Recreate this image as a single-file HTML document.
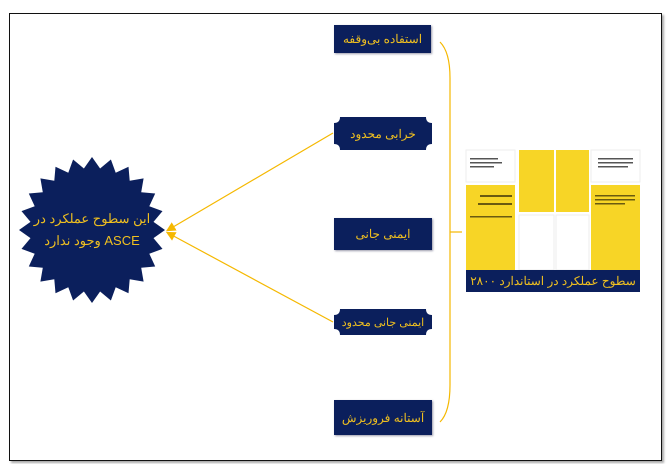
<!DOCTYPE html>
<html><head><meta charset="utf-8"><style>
body{margin:0;width:667px;height:464px;background:#fff;position:relative;overflow:hidden;font-family:"Liberation Sans","Noto Sans CJK SC",sans-serif}
.frame{position:absolute;left:9px;top:13px;width:651px;height:446px;border:1.5px solid #111;box-shadow:2px 2px 2px #aaa}
.b{position:absolute;background:#0b1f5c;color:#f0c020;font-size:12px;display:flex;align-items:center;justify-content:center;direction:rtl;box-shadow:1px 1px 2px #99a}
.t{position:absolute;color:#f0c020;display:flex;align-items:center;justify-content:center;direction:rtl;text-align:center;white-space:nowrap}
</style></head><body>
<div class="frame"></div>
<svg width="667" height="464" style="position:absolute;left:0;top:0">
<defs><marker id="a" markerWidth="8" markerHeight="8" refX="6" refY="4" orient="auto"><path d="M0,0 L8,4 L0,8 Z" fill="#f5b800"/></marker></defs>
<polygon id="star" fill="#0b1f5c" points=""/>
<line x1="333" y1="133" x2="168" y2="230" stroke="#f5b800" stroke-width="1.2" marker-end="url(#a)"/>
<line x1="333" y1="322" x2="168" y2="233" stroke="#f5b800" stroke-width="1.2" marker-end="url(#a)"/>
<path d="M440,42 Q450,52 450,78 L450,385 Q450,412 440,422" fill="none" stroke="#f5b800" stroke-width="1.2"/>
<line x1="450" y1="232" x2="462" y2="232" stroke="#f5b800" stroke-width="1.2"/>
<g>
<rect x="466" y="150" width="174" height="142" fill="#fff"/>
<rect x="466" y="150" width="49" height="32" fill="#fff" stroke="#eee"/>
<rect x="466" y="185" width="49" height="85" fill="#f7d526"/>
<rect x="519" y="150" width="35" height="62" fill="#f7d526"/>
<rect x="519" y="215" width="35" height="55" fill="#fff" stroke="#eee"/>
<rect x="556" y="150" width="33" height="62" fill="#f7d526"/>
<rect x="556" y="215" width="33" height="55" fill="#fff" stroke="#eee"/>
<rect x="591" y="150" width="49" height="32" fill="#fff" stroke="#eee"/>
<rect x="591" y="185" width="49" height="85" fill="#f7d526"/>
<g fill="#555"><rect x="470" y="158" width="28" height="1.5"/><rect x="470" y="162" width="32" height="1.5"/><rect x="470" y="166" width="24" height="1.5"/>
<rect x="598" y="158" width="35" height="1.5"/><rect x="598" y="162" width="35" height="1.5"/><rect x="598" y="166" width="30" height="1.5"/></g>
<g fill="#6a5a10"><rect x="480" y="195" width="32" height="2"/><rect x="478" y="203" width="34" height="2"/><rect x="470" y="216" width="42" height="1.5"/>
<rect x="595" y="195" width="40" height="1.5"/><rect x="595" y="199" width="40" height="1.5"/><rect x="595" y="203" width="30" height="1.5"/></g>
<rect x="466" y="270" width="174" height="22" fill="#0b1f5c"/>
</g>
<path d="M340,117 H426 Q426,123 432,123 V144 Q426,144 426,150 H340 Q340,144 334,144 V123 Q340,123 340,117Z" fill="#0b1f5c"/>
<path d="M340,309 H426 Q426,315 432,315 V329 Q426,329 426,335 H340 Q340,329 334,329 V315 Q340,315 340,309Z" fill="#0b1f5c"/>
</svg>
<div class="t" style="left:466px;top:270px;width:174px;height:22px;font-size:12px">سطوح عملکرد در استاندارد ۲۸۰۰</div>
<div class="t" style="left:334px;top:117px;width:98px;height:33px;font-size:12px">خرابی محدود</div>
<div class="t" style="left:334px;top:309px;width:98px;height:26px;font-size:11px">ایمنی جانی محدود</div>
<div class="t" style="left:17px;top:209px;width:150px;height:20px;font-size:13px">این سطوح عملکرد در</div>
<div class="t" style="left:17px;top:231px;width:150px;height:20px;font-size:13px">ASCE وجود ندارد</div>
<div class="b" style="left:334px;top:25px;width:97px;height:28px">استفاده بی‌وقفه</div>
<div class="b" style="left:334px;top:218px;width:98px;height:32px">ایمنی جانی</div>
<div class="b" style="left:334px;top:400px;width:98px;height:35px">آستانه فروریزش</div>
<script>
var p=[],n=24,cx=92,cy=230;
for(var i=0;i<2*n;i++){var r=i%2?62:73,t=Math.PI*i/n;p.push((cx+r*Math.cos(t)).toFixed(1)+","+(cy+r*Math.sin(t)).toFixed(1));}
document.getElementById("star").setAttribute("points",p.join(" "));
</script>
</body></html>
